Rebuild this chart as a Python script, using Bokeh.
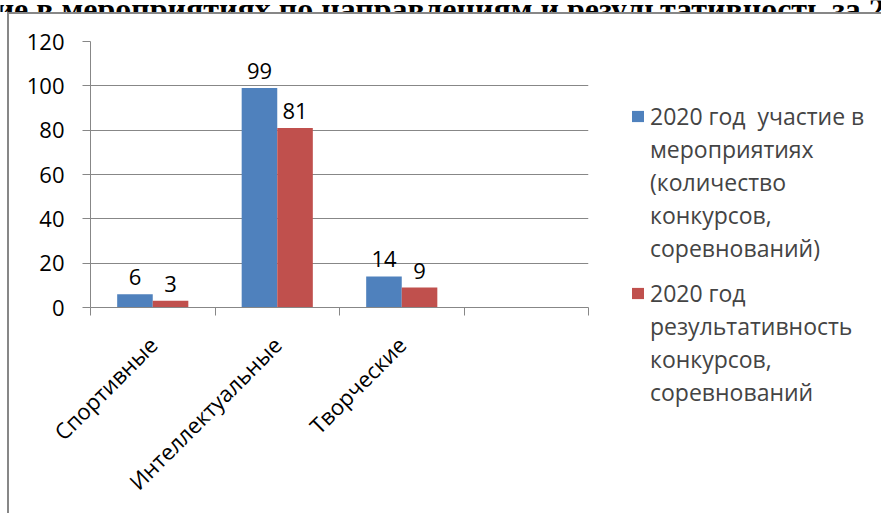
import math
from bokeh.plotting import figure
from bokeh.layouts import column, row
from bokeh.models import (Range1d, FixedTicker, ColumnDataSource, Legend, LegendItem)
from bokeh.core.properties import value
from bokeh.embed import file_html
from bokeh.resources import INLINE

# ---- data ----
title_text = "Участие в мероприятиях по направлениям и результативность за 2020 год"
categories = ["Спортивные", "Интеллектуальные", "Творческие", ""]
series_lines = [
    ["2020 год  участие в", "мероприятиях", "(количество", "конкурсов,", "соревнований)"],
    ["2020 год", "результативность", "конкурсов,", "соревнований"],
]
participation = [6, 99, 14]
results = [3, 81, 9]
y_ticks = [0, 20, 40, 60, 80, 100, 120]
colors = ["#4F81BD", "#C0504D"]

W, H = 881, 513
TITLE_H = 12
BODY_H = H - TITLE_H
MAIN_W = 600
LEG_W = W - MAIN_W
FONT = "Open Sans"
GRAY = "#878787"


def no_align(fig):
    if "frame_align" in fig.properties():
        fig.frame_align = False


# ---- title strip (its foot hidden under the chart area, as in the original) ----
tf = figure(width=W, height=TITLE_H, output_backend="svg", toolbar_location=None,
            x_range=Range1d(0, W), y_range=Range1d(0, TITLE_H), min_border=0,
            x_axis_location=None, y_axis_location=None)
no_align(tf)
tf.outline_line_color = None
tf.grid.grid_line_color = None
tf.text(x=[W / 2 + 6], y=[TITLE_H - 8.3], text=[title_text],
        text_font=value("Liberation Serif"), text_font_style="bold", text_font_size="32px",
        text_align="center", text_baseline="alphabetic", text_color="black")

# ---- main chart ----
p = figure(width=MAIN_W, height=BODY_H, output_backend="svg", toolbar_location=None,
           x_range=Range1d(0, len(categories)), y_range=Range1d(0, y_ticks[-1]),
           min_border_left=90, min_border_right=12, min_border_top=29,
           min_border_bottom=206)
p.outline_line_color = None
p.background_fill_color = "white"
p.border_fill_color = None
p.xgrid.grid_line_color = None
p.ygrid.ticker = FixedTicker(ticks=y_ticks)
p.ygrid.grid_line_color = GRAY

bw = 1.0 / 3.5
n = len(participation)
centers = [i + 0.5 for i in range(n)]
src_a = ColumnDataSource(dict(x=[c - bw / 2 for c in centers], top=participation,
                              lab=[str(v) for v in participation]))
src_b = ColumnDataSource(dict(x=[c + bw / 2 for c in centers], top=results,
                              lab=[str(v) for v in results]))
p.vbar(x="x", top="top", width=bw, source=src_a, fill_color=colors[0], line_color=None)
p.vbar(x="x", top="top", width=bw, source=src_b, fill_color=colors[1], line_color=None)
for s in (src_a, src_b):
    p.text(x="x", y="top", text="lab", source=s, text_font=value(FONT), text_font_size="22px",
           text_align="center", text_baseline="alphabetic", y_offset=-17, text_color="black")

ya = p.yaxis[0]
ya.ticker = FixedTicker(ticks=y_ticks)
ya.axis_line_color = GRAY
ya.major_tick_line_color = GRAY
ya.major_tick_out = 8
ya.major_tick_in = 0
ya.minor_tick_line_color = None
ya.major_label_standoff = 18
ya.major_label_text_font = FONT
ya.major_label_text_font_size = "22px"
ya.major_label_text_color = "black"

xa = p.xaxis[0]
xa.ticker = FixedTicker(ticks=[i + 0.5 for i in range(len(categories))],
                        minor_ticks=list(range(len(categories) + 1)))
xa.major_label_overrides = {i + 0.5: c for i, c in enumerate(categories)}
xa.major_label_orientation = math.pi / 4
xa.axis_line_color = GRAY
xa.major_tick_line_color = None
xa.major_tick_out = 0
xa.major_tick_in = 0
xa.minor_tick_line_color = GRAY
xa.minor_tick_out = 8
xa.minor_tick_in = 0
xa.major_label_standoff = 25
xa.major_label_text_font = FONT
xa.major_label_text_font_size = "22px"
xa.major_label_text_color = "black"

# ---- legend panel (swatch on the first line of each entry) ----
lf = figure(width=LEG_W, height=BODY_H, output_backend="svg", toolbar_location=None,
            x_range=Range1d(0, len(categories)), y_range=Range1d(0, 1), min_border=0,
            x_axis_location=None, y_axis_location=None)
no_align(lf)
lf.outline_line_color = None
lf.grid.grid_line_color = None
lf.background_fill_color = None
lf.border_fill_color = None
# flat (zero-height) proxies of the two series, used only for the legend swatches
swatches = [lf.vbar(x="x", top=0, bottom=0, width=bw, source=s, fill_color=c, line_color=None)
            for s, c in zip((src_a, src_b), colors)]
blank = lf.vbar(x=[], top=[], width=0.1, fill_alpha=0, line_alpha=0)
LINE_H = 33
legend_locs = [(30, 249), (30, 105)]
for k, lines in enumerate(series_lines):
    items = [LegendItem(label=t, renderers=[swatches[k] if j == 0 else blank])
             for j, t in enumerate(lines)]
    lg = Legend(items=items, location=legend_locs[k], orientation="vertical")
    lg.glyph_width = 15
    lg.glyph_height = 14
    lg.label_height = LINE_H
    lg.label_standoff = 5
    lg.label_text_font = FONT
    lg.label_text_font_size = "23px"
    lg.label_text_line_height = 1.0
    lg.spacing = 0
    lg.padding = 0
    lg.margin = 0
    lg.border_line_color = None
    lg.background_fill_alpha = 0
    lf.add_layout(lg)

# chart-area frame: left and top edges (the rest lies outside the window)
body = row(p, lf, spacing=0,
           styles={"box-shadow": "inset 7px 0 0 0 white, inset 9px 2px 0 0 " + GRAY})
layout = column(tf, body, spacing=0)

open("out.html", "w").write(file_html(layout, INLINE))
